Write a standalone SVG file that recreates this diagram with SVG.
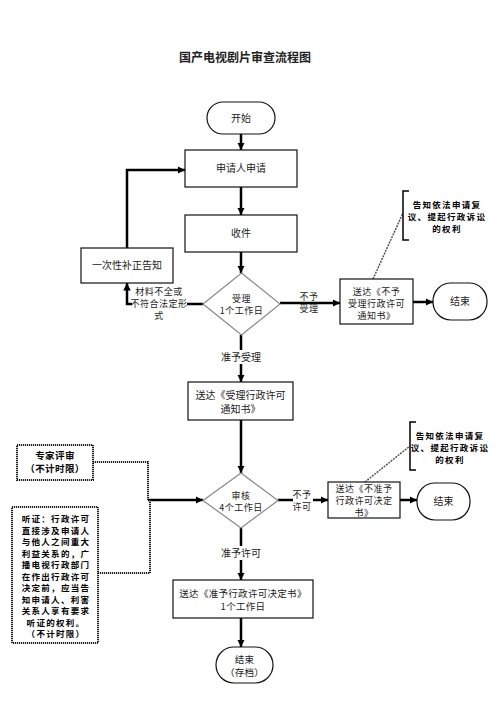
<svg xmlns="http://www.w3.org/2000/svg" width="500" height="707" viewBox="0 0 500 707">
<defs>
<style>
.t{font-family:"Noto Sans CJK SC","Liberation Sans",sans-serif;font-size:10px;fill:#222;text-anchor:middle}
.m{font-family:"Noto Sans CJK SC","Liberation Sans",sans-serif;font-size:9px;letter-spacing:0.5px;fill:#222;text-anchor:middle}
.m2{font-family:"Noto Sans CJK SC","Liberation Sans",sans-serif;font-size:9.5px;letter-spacing:0.3px;fill:#222;text-anchor:middle}
.b{font-family:"Noto Sans CJK SC","Liberation Sans",sans-serif;font-size:9.5px;letter-spacing:0.4px;font-weight:bold;fill:#000;text-anchor:middle}
.s{font-family:"Noto Sans CJK SC","Liberation Sans",sans-serif;font-size:8.5px;letter-spacing:1.3px;font-weight:bold;fill:#000;text-anchor:middle}
.box{fill:#fff;stroke:#111;stroke-width:1.2}
.dia{fill:#fff;stroke:#888;stroke-width:1.2}
.dot{fill:#fff;stroke:#222;stroke-width:2;stroke-dasharray:1.2 0.8}
.c{fill:none;stroke:#000;stroke-width:2.5}
.cd{fill:none;stroke:#222;stroke-width:2;stroke-dasharray:1.2 0.8}
.dash{fill:none;stroke:#555;stroke-width:1.5;stroke-dasharray:2 1}
.br{fill:none;stroke:#000;stroke-width:1.5}
</style>
<marker id="ah" viewBox="0 0 10 10" refX="10" refY="5" markerWidth="3" markerHeight="3" orient="auto" markerUnits="strokeWidth">
<path d="M0,0 L10,5 L0,10 z" fill="#000"/>
</marker>
</defs>
<rect width="500" height="707" fill="#fff"/>
<text x="245" y="62" style="font-family:'Noto Sans CJK SC',serif;font-size:12px;font-weight:bold;fill:#222;text-anchor:middle">国产电视剧片审查流程图</text>

<g id="connectors">
<path class="c" d="M241,134 V150" marker-end="url(#ah)"/>
<path class="c" d="M241,187 V215" marker-end="url(#ah)"/>
<path class="c" d="M241,252 V273" marker-end="url(#ah)"/>
<path class="c" d="M203,304 H127 V283" marker-end="url(#ah)"/>
<path class="c" d="M127,248 V170 H185" marker-end="url(#ah)"/>
<path class="c" d="M280,303 H340" marker-end="url(#ah)"/>
<path class="c" d="M413,302 H433" marker-end="url(#ah)"/>
<path class="c" d="M241,335 V382" marker-end="url(#ah)"/>
<path class="c" d="M241,420 V473" marker-end="url(#ah)"/>
<path class="c" d="M278,500 H328" marker-end="url(#ah)"/>
<path class="c" d="M400,500 H417" marker-end="url(#ah)"/>
<path class="c" d="M241,528 V580" marker-end="url(#ah)"/>
<path class="c" d="M241,618 V647" marker-end="url(#ah)"/>
<path class="cd" d="M93,462 H148 V500"/>
<path class="c" d="M148,500 H203" marker-end="url(#ah)"/>
<path class="cd" d="M98,573 H150 V500"/>
<path class="dash" d="M373,279 L403,213"/>
<path class="dash" d="M365,482 L410,446"/>
<rect x="132" y="287" width="55" height="34" fill="#fff"/>
<text class="m" x="159" y="295">材料不全或<tspan x="159" dy="12">不符合法定形</tspan><tspan x="159" dy="12">式</tspan></text>
<text class="m" x="309" y="300">不予<tspan x="309" dy="12">受理</tspan></text>
<rect x="219" y="350" width="44" height="14" fill="#fff"/>
<text class="t" x="241" y="361">准予受理</text>
<rect x="293" y="488" width="20" height="26" fill="#fff"/>
<text class="m" x="302" y="498">不予<tspan x="302" dy="12">许可</tspan></text>
<rect x="219" y="546" width="44" height="14" fill="#fff"/>
<text class="t" x="241" y="557">准予许可</text>
</g>

<g id="start">
<rect x="207" y="102" width="68" height="32" rx="16" class="box"/>
<text class="t" x="241" y="122">开始</text>
</g>
<g id="apply">
<rect x="185" y="150" width="112" height="37" class="box"/>
<text class="t" x="241" y="172">申请人申请</text>
</g>
<g id="receive">
<rect x="185" y="215" width="112" height="37" class="box"/>
<text class="t" x="241" y="237">收件</text>
</g>
<g id="correction">
<rect x="81" y="248" width="92" height="35" class="box"/>
<text class="t" x="127" y="269">一次性补正告知</text>
</g>
<g id="accept">
<path d="M241.5,273 L280,304 L241.5,335 L203,304 Z" class="dia"/>
<text class="m" x="241.5" y="302">受理<tspan x="241.5" dy="12">1个工作日</tspan></text>
</g>
<g id="reject-notice">
<rect x="340" y="279" width="73" height="45" class="box"/>
<text class="m" x="376.5" y="295">送达《不予<tspan x="376.5" dy="12">受理行政许可</tspan><tspan x="376.5" dy="12">通知书》</tspan></text>
</g>
<g id="end1">
<rect x="433" y="283" width="54" height="37" rx="18" class="box"/>
<text class="t" x="460" y="305">结束</text>
</g>
<g id="note1">
<path class="br" d="M409,191 H403 V240 H409"/>
<text class="s" x="447" y="208">告知依法申请复<tspan x="447" dy="12">议、提起行政诉讼</tspan><tspan x="447" dy="12">的权利</tspan></text>
</g>
<g id="accept-notice">
<rect x="188" y="382" width="105" height="38" class="box"/>
<text class="t" x="240.5" y="399">送达《受理行政许可<tspan x="240.5" dy="14">通知书》</tspan></text>
</g>
<g id="review">
<path d="M241,473 L278,500.5 L241,528 L203,500.5 Z" class="dia"/>
<text class="m" x="241" y="499">审核<tspan x="241" dy="12">4个工作日</tspan></text>
</g>
<g id="deny-decision">
<rect x="328" y="482" width="72" height="36" class="box"/>
<text class="m" x="364" y="492">送达《不准予<tspan x="364" dy="12">行政许可决定</tspan><tspan x="364" dy="12">书》</tspan></text>
</g>
<g id="end2">
<rect x="417" y="483" width="53" height="37" rx="18" class="box"/>
<text class="t" x="443.5" y="505">结束</text>
</g>
<g id="note2">
<path class="br" d="M416,422 H410 V470 H416"/>
<text class="s" x="450" y="439">告知依法申请复<tspan x="450" dy="12">议、提起行政诉讼</tspan><tspan x="450" dy="12">的权利</tspan></text>
</g>
<g id="expert">
<rect x="17" y="445" width="76" height="35" class="dot"/>
<text class="b" x="55" y="459">专家评审<tspan x="55" dy="13">（不计时限）</tspan></text>
</g>
<g id="hearing">
<rect x="12" y="507" width="86" height="136" class="dot"/>
<text class="s" x="56" y="522">听证：行政许可<tspan x="56" dy="11.5">直接涉及申请人</tspan><tspan x="56" dy="11.5">与他人之间重大</tspan><tspan x="56" dy="11.5">利益关系的，广</tspan><tspan x="56" dy="11.5">播电视行政部门</tspan><tspan x="56" dy="11.5">在作出行政许可</tspan><tspan x="56" dy="11.5">决定前，应当告</tspan><tspan x="56" dy="11.5">知申请人、利害</tspan><tspan x="56" dy="11.5">关系人享有要求</tspan><tspan x="56" dy="11.5">听证的权利。</tspan><tspan x="56" dy="11.5">（不计时限）</tspan></text>
</g>
<g id="grant-decision">
<rect x="173" y="580" width="140" height="38" class="box"/>
<text class="m2" x="243" y="597">送达《准予行政许可决定书》<tspan x="243" dy="13">1个工作日</tspan></text>
</g>
<g id="end-archive">
<rect x="216" y="647" width="57" height="36" rx="18" class="box"/>
<text class="m2" x="244.5" y="663">结束<tspan x="244.5" dy="13">（存档）</tspan></text>
</g>
</svg>
